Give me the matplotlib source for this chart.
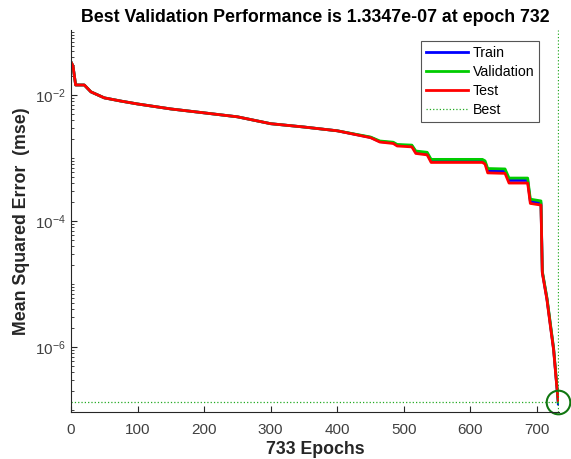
import matplotlib
matplotlib.use('Agg')
import matplotlib.pyplot as plt
from matplotlib.ticker import LogLocator, NullFormatter, FixedLocator

plt.rcParams['font.family'] = ['Liberation Sans', 'DejaVu Sans']
plt.rcParams['mathtext.default'] = 'regular'

# --- Data ---
epochs = [0, 3, 7, 20, 30, 50, 75, 100, 150, 200, 250, 300, 350, 400, 450,
          464, 484, 490, 512, 518, 535, 541, 618, 622, 626, 652, 658,
          686, 690, 706, 708, 715, 720, 725, 729, 732]

test_mse = [0.0334, 0.029, 0.0144, 0.0144, 0.0112, 0.0090, 0.0080, 0.0072,
            0.0060, 0.0052, 0.0045, 0.0035, 0.0031, 0.0027, 0.0021,
            0.00179, 0.00170, 0.00155, 0.00150, 0.00118, 0.00112, 0.00085,
            0.00085, 0.00080, 0.00058, 0.00057, 0.00040, 0.00040,
            0.00019, 0.000179, 1.5e-5, 5.6e-6, 2.2e-6, 8.9e-7,
            2.9e-7, 1.4e-7]

train_mse = [0.0334, 0.029, 0.0144, 0.0144, 0.0112, 0.0090, 0.0080, 0.0072,
             0.0060, 0.0052, 0.0045, 0.0035, 0.0031, 0.0027, 0.00212,
             0.00182, 0.00174, 0.00160, 0.00156, 0.00124, 0.00118, 0.00090,
             0.00090, 0.00085, 0.00063, 0.00062, 0.00044, 0.00044,
             0.000205, 0.000193, 1.55e-5, 5.8e-6, 2.3e-6, 9.2e-7,
             3.0e-7, 1.25e-7]

val_mse = [0.0334, 0.029, 0.0144, 0.0144, 0.0112, 0.0090, 0.0080, 0.0072,
           0.0060, 0.0052, 0.0045, 0.0035, 0.0031, 0.0027, 0.00215,
           0.00186, 0.00178, 0.00164, 0.00160, 0.00129, 0.00123, 0.00095,
           0.00095, 0.00090, 0.00068, 0.00067, 0.00048, 0.00048,
           0.000222, 0.000208, 1.6e-5, 6.0e-6, 2.4e-6, 9.5e-7,
           3.1e-7, 1.3347e-7]

best_epoch = 732
best_perf = 1.3347e-07
n_epochs = 733

# --- Plot ---
fig = plt.figure(figsize=(5.71, 4.59), dpi=100)
ax = fig.add_axes([0.1243, 0.1024, 0.8546, 0.832])

ax.plot(epochs, train_mse, color='#0000ff', lw=2.0, label='Train')
ax.plot(epochs, val_mse, color='#00cc00', lw=2.0, label='Validation')
ax.plot(epochs, test_mse, color='#ff0000', lw=2.0, label='Test')
ax.axvline(best_epoch, color='#22aa22', ls=':', lw=0.9, label='Best')
ax.axhline(best_perf, color='#22aa22', ls=':', lw=0.9)
ax.plot([best_epoch], [best_perf], 'o', ms=17, mfc='none', mec='#117711',
        mew=1.5, clip_on=False)

ax.set_yscale('log')
ax.set_xlim(0, n_epochs)
ax.set_ylim(9.3e-8, 0.107)

ax.xaxis.set_major_locator(FixedLocator(range(0, 701, 100)))
ax.yaxis.set_major_locator(FixedLocator([1e-6, 1e-4, 1e-2]))
ax.yaxis.set_minor_locator(LogLocator(base=10, subs='all', numticks=50))
ax.yaxis.set_minor_formatter(NullFormatter())

for s in ['top', 'right']:
    ax.spines[s].set_visible(False)
for s in ['left', 'bottom']:
    ax.spines[s].set_color('#262626')
ax.tick_params(which='both', direction='in', colors='#262626', labelcolor='#404040',
               labelsize=11)
ax.tick_params(axis='x', pad=8)
ax.tick_params(which='major', length=4)
ax.tick_params(which='minor', length=2)

ax.set_title('Best Validation Performance is 1.3347e-07 at epoch 732',
             fontsize=12.8, fontweight='bold', pad=6)
ax.set_xlabel('733 Epochs', fontsize=12.8, fontweight='bold', color='#262626',
              labelpad=3)
ax.set_ylabel('Mean Squared Error  (mse)', fontsize=12.8, fontweight='bold',
              color='#262626')

leg = ax.legend(loc='upper right', bbox_to_anchor=(0.974, 0.99), fontsize=10.2,
                fancybox=False, framealpha=1, edgecolor='#555555',
                handlelength=3.0, handletextpad=0.3, borderpad=0.35, labelspacing=0.35)
leg.get_frame().set_linewidth(0.8)

fig.savefig('out.png', dpi=100)
